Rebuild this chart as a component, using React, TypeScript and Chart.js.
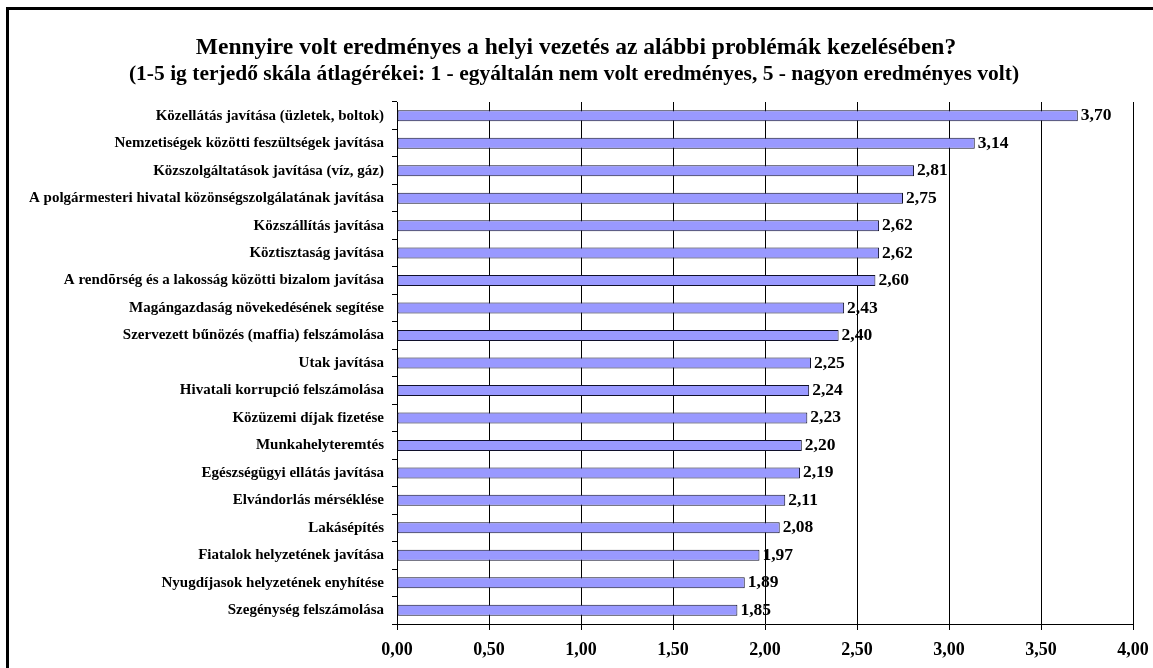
import React, { useEffect, useRef } from "react";
import { Chart, registerables } from "chart.js";

Chart.register(...registerables);

const categories: string[] = [
  "Közellátás javítása (üzletek, boltok)",
  "Nemzetiségek közötti feszültségek javítása",
  "Közszolgáltatások javítása (víz, gáz)",
  "A polgármesteri hivatal közönségszolgálatának javítása",
  "Közszállítás javítása",
  "Köztisztaság javítása",
  "A rendõrség és a lakosság közötti bizalom javítása",
  "Magángazdaság növekedésének segítése",
  "Szervezett bűnözés (maffia) felszámolása",
  "Utak javítása",
  "Hivatali korrupció felszámolása",
  "Közüzemi díjak fizetése",
  "Munkahelyteremtés",
  "Egészségügyi ellátás javítása",
  "Elvándorlás mérséklése",
  "Lakásépítés",
  "Fiatalok helyzetének javítása",
  "Nyugdíjasok helyzetének enyhítése",
  "Szegénység felszámolása",
];

const values: number[] = [
  3.7, 3.14, 2.81, 2.75, 2.62, 2.62, 2.6, 2.43, 2.4, 2.25, 2.24, 2.23, 2.2,
  2.19, 2.11, 2.08, 1.97, 1.89, 1.85,
];

const titleLines: string[] = [
  "Mennyire volt eredményes a helyi vezetés az alábbi problémák kezelésében?",
  "(1-5 ig terjedő skála átlagérékei: 1 - egyáltalán nem volt eredményes, 5 - nagyon eredményes volt)",
];

const xMin = 0;
const xMax = 4;
const xStep = 0.5;

const FONT = "'Liberation Serif', 'Times New Roman', Times, serif";
const fmt = (v: number) => v.toFixed(2).replace(".", ",");

export default function App() {
  const ref = useRef<HTMLCanvasElement | null>(null);

  useEffect(() => {
    if (!ref.current) return;

    const framePlugin = {
      id: "frame",
      beforeDraw(chart: any) {
        const ctx = chart.ctx;
        ctx.save();
        ctx.fillStyle = "#ffffff";
        ctx.fillRect(0, 0, chart.width, chart.height);
        ctx.fillStyle = "#000000";
        ctx.fillRect(6, 7, 3, chart.height);
        ctx.fillRect(6, 7, chart.width, 3);
        ctx.restore();
      },
      afterDraw(chart: any) {
        const ctx = chart.ctx;
        ctx.save();
        ctx.fillStyle = "#000";
        ctx.textAlign = "center";
        ctx.textBaseline = "alphabetic";
        ctx.font = `bold 23.5px ${FONT}`;
        ctx.fillText(titleLines[0], 576, 54);
        ctx.font = `bold 21.5px ${FONT}`;
        ctx.fillText(titleLines[1], 574, 80);
        ctx.restore();
      },
    };

    const labelPlugin = {
      id: "valueLabels",
      afterDatasetsDraw(chart: any) {
        const ctx = chart.ctx;
        const meta = chart.getDatasetMeta(0);
        ctx.save();
        ctx.fillStyle = "#000";
        ctx.font = `bold 17.5px ${FONT}`;
        ctx.textAlign = "left";
        ctx.textBaseline = "middle";
        meta.data.forEach((el: any, i: number) => {
          ctx.fillText(fmt(values[i]), el.x + 3, el.y);
        });
        ctx.restore();
      },
    };

    const chart = new Chart(ref.current, {
      type: "bar",
      data: {
        labels: categories,
        datasets: [
          {
            data: values,
            backgroundColor: "#9999FF",
            borderColor: "#10102a",
            borderWidth: 1,
            borderSkipped: false,
            barPercentage: 0.4,
            categoryPercentage: 1,
          },
        ],
      },
      options: {
        indexAxis: "y",
        responsive: false,
        animation: false,
        layout: { padding: { top: 102, right: 20, left: 0, bottom: 0 } },
        plugins: {
          legend: { display: false },
          title: { display: false },
          tooltip: { enabled: false },
        },
        scales: {
          x: {
            min: xMin,
            max: xMax,
            ticks: {
              stepSize: xStep,
              color: "#000",
              font: { family: FONT, size: 18, weight: "bold" },
              padding: 10,
              maxRotation: 0,
              callback: (v: any) => fmt(Number(v)),
            },
            grid: {
              color: "#000",
              lineWidth: 1,
              tickLength: 6,
              drawTicks: true,
            },
            border: { display: true, color: "#000", width: 1 },
            afterFit: (s: any) => {
              s.height = 44;
              s.paddingRight = 0;
              s.paddingLeft = 0;
            },
          },
          y: {
            ticks: {
              color: "#000",
              font: { family: FONT, size: 15, weight: "bold" },
              padding: 8,
              autoSkip: false,
            },
            grid: {
              offset: true,
              drawOnChartArea: false,
              drawTicks: true,
              tickLength: 5,
              color: "#000",
            },
            border: { display: true, color: "#000", width: 1 },
            afterFit: (s: any) => {
              s.width = 397;
            },
          },
        },
      },
      plugins: [framePlugin, labelPlugin],
    } as any);

    return () => chart.destroy();
  }, []);

  return (
    <canvas
      ref={ref}
      width={1153}
      height={668}
      style={{ position: "absolute", left: 0, top: 0, display: "block" }}
    />
  );
}
